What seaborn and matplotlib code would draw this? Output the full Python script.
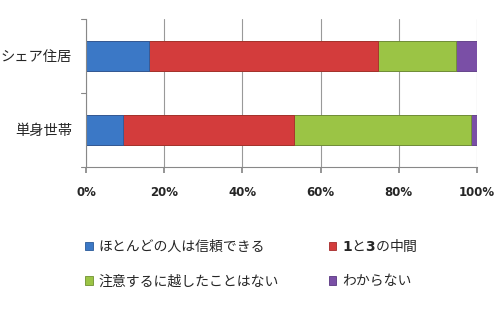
import matplotlib
matplotlib.use("Agg")
import matplotlib.pyplot as plt
import seaborn as sns
import pandas as pd
import numpy as np
from matplotlib.patches import Patch

categories = ["シェア住居", "単身世帯"]
series_names = ["ほとんどの人は信頼できる", r"$\mathbf{1}$と$\mathbf{3}$の中間", "注意するに越したことはない", "わからない"]
trust = [16.2, 9.4]
middle = [58.4, 43.9]
careful = [20.0, 45.1]
unknown = [5.4, 1.6]
tick_labels = ["0%", "20%", "40%", "60%", "80%", "100%"]

colors = ["#3b78c6", "#d33c3c", "#9bc445", "#7a4fa6"]
edges = ["#2a5a99", "#a52a2a", "#6f9030", "#583680"]

sns.set_theme(style="white")
plt.rcParams["font.family"] = ["Noto Sans CJK JP", "DejaVu Sans"]

fig = plt.figure(figsize=(5, 3.2), dpi=100)
ax = fig.add_axes([0.172, 0.479, 0.782, 0.4616])

series = [trust, middle, careful, unknown]
cum = np.cumsum(np.array(series), axis=0)
for i in range(len(series) - 1, -1, -1):
    df = pd.DataFrame({"cat": categories, "val": cum[i]})
    sns.barplot(data=df, x="val", y="cat", orient="h", color=colors[i],
                width=0.41, ax=ax, edgecolor=edges[i], linewidth=0.6,
                saturation=1, order=categories)

ax.set_xlim(0, 100)
ax.set_ylim(1.5, -0.5)
ax.set_xticks(np.arange(0, 101, 20))
ax.set_xticklabels(tick_labels, fontsize=8.5, fontweight="bold", family=["DejaVu Sans"])
ax.set_xlabel("")
ax.set_ylabel("")
ax.tick_params(axis="y", labelsize=10.3, length=0, pad=10)
ax.tick_params(axis="x", length=4, pad=10, color="#888888", bottom=True)
for y in [-0.5, 0.5, 1.5]:
    ax.plot([-0.012, 0], [y, y], transform=ax.get_yaxis_transform(), color="#888888", lw=0.8, clip_on=False)
ax.xaxis.grid(True, color="#999999", linewidth=0.8)
ax.set_axisbelow(True)
for s in ["top", "right"]:
    ax.spines[s].set_visible(False)
for s in ["left", "bottom"]:
    ax.spines[s].set_color("#888888")
    ax.spines[s].set_linewidth(0.8)

handles = [Patch(facecolor=colors[i], edgecolor=edges[i], linewidth=0.6) for i in range(4)]
order = [0, 2, 1, 3]
fig.legend([handles[i] for i in order], [series_names[i] for i in order], ncol=2,
           loc="upper left", bbox_to_anchor=(0.145, 0.295),
           frameon=False, fontsize=10, handlelength=0.55, handleheight=0.55,
           handletextpad=0.4, labelspacing=1.45, columnspacing=3.6)

fig.savefig("out.png", dpi=100)
